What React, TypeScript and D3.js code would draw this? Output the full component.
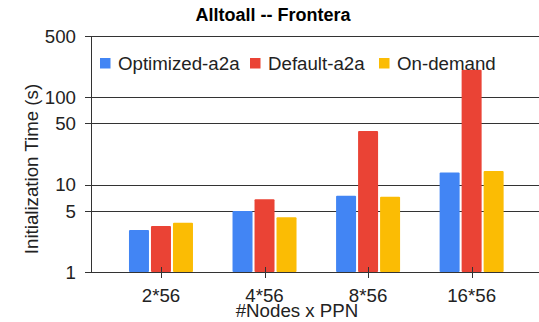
import React from "react";
import * as d3 from "d3";

const categories = ["2*56", "4*56", "8*56", "16*56"];
const seriesNames = ["Optimized-a2a", "Default-a2a", "On-demand"];
const optimized = [3.02, 5.0, 7.46, 13.7];
const defaultA2a = [3.36, 6.8, 41, 205];
const onDemand = [3.67, 4.22, 7.27, 14.3];
const yTicks = [1, 5, 10, 50, 100, 500];
const colors = ["#4285f4", "#ea4335", "#fbbc04"];

const W = 539;
const H = 322;
const FONT = "'Liberation Sans', Arial, sans-serif";
const FS = 18.7;

export default function App() {
  const series = [optimized, defaultA2a, onDemand];
  const plotLeft = 91;
  const plotRight = 539;
  const y = d3.scaleLog().domain([1, 500]).range([272, 36]);
  const x = d3.scaleBand<string>().domain(categories).range([109.2, 523.4]).paddingInner(0).paddingOuter(0);
  const barW = 20;
  const gap = 2;
  const groupW = barW * 3 + gap * 2;

  return (
    <svg width={W} height={H} style={{ position: "absolute", left: 0, top: 0 }} fontFamily={FONT}>
      <rect width={W} height={H} fill="#fff" />
      <text x={273} y={21} textAnchor="middle" fontSize={18} fontWeight="bold" fill="#000">
        Alltoall -- Frontera
      </text>

      {yTicks.map((t) => (
        <g key={t}>
          <line x1={plotLeft - 6} x2={plotRight} y1={Math.round(y(t)) + 0.5} y2={Math.round(y(t)) + 0.5} stroke="#333" strokeWidth={1} />
          <text x={76} y={y(t) + 6.8} textAnchor="end" fontSize={FS} fill="#222">
            {t}
          </text>
        </g>
      ))}
      <line x1={plotLeft + 0.5} x2={plotLeft + 0.5} y1={y(500)} y2={y(1)} stroke="#333" strokeWidth={1} />

      {categories.map((c, i) => {
        const cx = (x(c) as number) + x.bandwidth() / 2;
        return (
          <g key={c}>
            {series.map((s, k) => {
              const bx = cx - groupW / 2 + k * (barW + gap);
              return (
                <rect
                  key={k}
                  x={bx}
                  y={y(s[i])}
                  width={barW}
                  height={y(1) - y(s[i])}
                  fill={colors[k]}
                  rx={1}
                />
              );
            })}
            <line x1={Math.round(cx) + 0.5} x2={Math.round(cx) + 0.5} y1={y(1) - 5} y2={y(1) + 6} stroke="#333" />
            <text x={cx} y={302} textAnchor="middle" fontSize={FS} fill="#222">
              {c}
            </text>
          </g>
        );
      })}
      <line x1={plotLeft - 6} x2={plotRight} y1={272.5} y2={272.5} stroke="#333" />

      <text x={297} y={317} textAnchor="middle" fontSize={FS} fill="#222">
        #Nodes x PPN
      </text>
      <text transform="translate(38,169) rotate(-90)" textAnchor="middle" fontSize={FS} fill="#222">
        Initialization Time (s)
      </text>

      {seriesNames.map((n, k) => {
        const lx = [100, 250, 379][k];
        return (
          <g key={n}>
            <rect x={lx} y={58} width={10.5} height={10.5} fill={colors[k]} />
            <text x={lx + 18} y={69.8} fontSize={FS} fill="#222">
              {n}
            </text>
          </g>
        );
      })}
    </svg>
  );
}
